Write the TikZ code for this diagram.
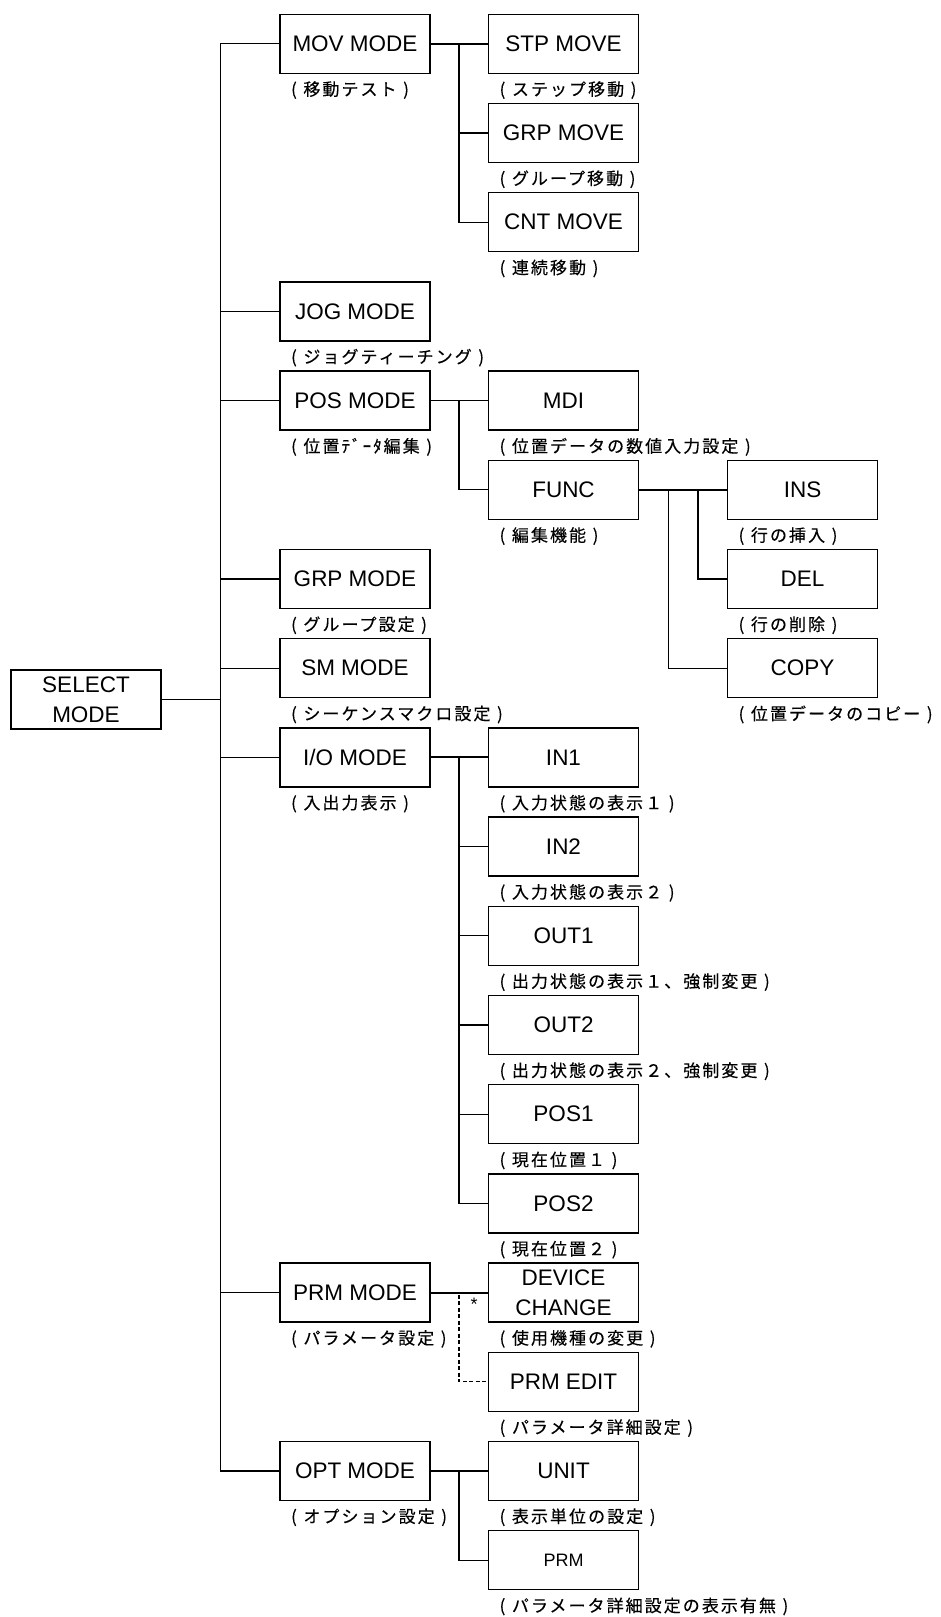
\documentclass[tikz,border=0pt]{standalone}
\usepackage{fontspec}
\setmainfont{Liberation Sans}
\newfontfamily\jpfont[FakeBold=0.3,LetterSpace=12]{Noto Sans CJK JP}
\usetikzlibrary{calc}
\newcommand\LP{\makebox[19pt][c]{(}}
\newcommand\RP{\makebox[19pt][c]{)}}
\tikzset{
  box/.style={draw=black, line width=1.5pt, minimum width=150pt, minimum height=59pt,
    inner sep=0pt, align=center, font=\fontsize{22.5}{30}\selectfont},
  lab/.style={font=\jpfont\fontsize{17}{20}\selectfont, inner sep=0pt, anchor=west},
  conn/.style={line width=1.2pt, line cap=rect},
  mainconn/.style={line width=2pt},
  dconn/.style={line width=1.2pt, dash pattern=on 4pt off 2.5pt}
}
\begin{document}
\begin{tikzpicture}[x=1pt,y=-1pt]
\path[use as bounding box] (0,0) rectangle (940,1617);
% trunk and junction x positions
\coordinate (tk) at (220.5,0);
\coordinate (ja) at (459,0);
\coordinate (jb) at (668.5,0);
\coordinate (jc) at (698,0);

% level 0
\node[box] (sel) at (86,699.3) {SELECT\\MODE};

% level 1
\node[box] (mov) at (355,43.8) {MOV MODE};
\node[box] (jog) at (355,311.4) {JOG MODE};
\node[box] (pos) at (355,400.6) {POS MODE};
\node[box] (grpm) at (355,579) {GRP MODE};
\node[box] (sm) at (355,668.2) {SM MODE};
\node[box] (io) at (355,757.4) {I/O MODE};
\node[box] (prm) at (355,1292.6) {PRM MODE};
\node[box] (opt) at (355,1471) {OPT MODE};

% level 2
\node[box] (stp) at (563.5,43.8) {STP MOVE};
\node[box] (grpmv) at (563.5,133) {GRP MOVE};
\node[box] (cnt) at (563.5,222.2) {CNT MOVE};
\node[box] (mdi) at (563.5,400.6) {MDI};
\node[box] (func) at (563.5,489.8) {FUNC};
\node[box] (in1) at (563.5,757.4) {IN1};
\node[box] (in2) at (563.5,846.6) {IN2};
\node[box] (out1) at (563.5,935.8) {OUT1};
\node[box] (out2) at (563.5,1025) {OUT2};
\node[box] (pos1) at (563.5,1114.2) {POS1};
\node[box] (pos2) at (563.5,1203.4) {POS2};
\node[box] (dev) at (563.5,1292.6) {DEVICE\\CHANGE};
\node[box] (prmed) at (563.5,1381.8) {PRM EDIT};
\node[box] (unit) at (563.5,1471) {UNIT};
\node[box, font=\fontsize{18}{22}\selectfont] (prmo) at (563.5,1560.2) {PRM};

% level 3
\node[box] (ins) at (802.5,489.8) {INS};
\node[box] (del) at (802.5,579) {DEL};
\node[box] (copy) at (802.5,668.2) {COPY};

% labels
\node[lab] (lmov) at ($(mov.south west)+(5,16)$) {\LP 移動テスト\RP};
\node[lab] (ljog) at ($(jog.south west)+(5,16)$) {\LP ジョグティーチング\RP};
\node[lab] (lpos) at ($(pos.south west)+(5,16)$) {\LP 位置ﾃﾞｰﾀ編集\RP};
\node[lab] (lgrpm) at ($(grpm.south west)+(5,16)$) {\LP グループ設定\RP};
\node[lab] (lsm) at ($(sm.south west)+(5,16)$) {\LP シーケンスマクロ設定\RP};
\node[lab] (lio) at ($(io.south west)+(5,16)$) {\LP 入出力表示\RP};
\node[lab] (lprm) at ($(prm.south west)+(5,16)$) {\LP パラメータ設定\RP};
\node[lab] (lopt) at ($(opt.south west)+(5,16)$) {\LP オプション設定\RP};

\node[lab] (lstp) at ($(stp.south west)+(5,16)$) {\LP ステップ移動\RP};
\node[lab] (lgrpmv) at ($(grpmv.south west)+(5,16)$) {\LP グループ移動\RP};
\node[lab] (lcnt) at ($(cnt.south west)+(5,16)$) {\LP 連続移動\RP};
\node[lab] (lmdi) at ($(mdi.south west)+(5,16)$) {\LP 位置データの数値入力設定\RP};
\node[lab] (lfunc) at ($(func.south west)+(5,16)$) {\LP 編集機能\RP};
\node[lab] (lin1) at ($(in1.south west)+(5,16)$) {\LP 入力状態の表示１\RP};
\node[lab] (lin2) at ($(in2.south west)+(5,16)$) {\LP 入力状態の表示２\RP};
\node[lab] (lout1) at ($(out1.south west)+(5,16)$) {\LP 出力状態の表示１、強制変更\RP};
\node[lab] (lout2) at ($(out2.south west)+(5,16)$) {\LP 出力状態の表示２、強制変更\RP};
\node[lab] (lpos1) at ($(pos1.south west)+(5,16)$) {\LP 現在位置１\RP};
\node[lab] (lpos2) at ($(pos2.south west)+(5,16)$) {\LP 現在位置２\RP};
\node[lab] (ldev) at ($(dev.south west)+(5,16)$) {\LP 使用機種の変更\RP};
\node[lab] (lprmed) at ($(prmed.south west)+(5,16)$) {\LP パラメータ詳細設定\RP};
\node[lab] (lunit) at ($(unit.south west)+(5,16)$) {\LP 表示単位の設定\RP};
\node[lab] (lprmo) at ($(prmo.south west)+(5,16)$) {\LP パラメータ詳細設定の表示有無\RP};

\node[lab] (lins) at ($(ins.south west)+(5,16)$) {\LP 行の挿入\RP};
\node[lab] (ldel) at ($(del.south west)+(5,16)$) {\LP 行の削除\RP};
\node[lab] (lcopy) at ($(copy.south west)+(5,16)$) {\LP 位置データのコピー\RP};

% connectors: root to trunk
\draw[conn] (sel.east) -- (sel.east -| tk);
\draw[conn] (mov.west -| tk) -- (opt.west -| tk);
\foreach \n in {mov,jog,pos,grpm,sm,io,prm,opt}
  \draw[conn] (\n.west -| tk) -- (\n.west);

% MOV MODE children
\draw[mainconn] (mov.east) -- (stp.west);
\draw[conn] (mov.east -| ja) |- (grpmv.west);
\draw[conn] (mov.east -| ja) |- (cnt.west);

% POS MODE children
\draw[conn] (pos.east) -- (mdi.west);
\draw[conn] (pos.east -| ja) |- (func.west);

% FUNC children
\draw[mainconn] (func.east) -- (ins.west);
\draw[conn] (func.east -| jb) |- (copy.west);
\draw[conn] (func.east -| jc) |- (del.west);

% I/O MODE children
\draw[mainconn] (io.east) -- (in1.west);
\foreach \n in {in2,out1,out2,pos1,pos2}
  \draw[conn] (io.east -| ja) |- (\n.west);

% PRM MODE children
\draw[mainconn] (prm.east) -- (dev.west);
\draw[dconn] ($(prm.east -| ja)+(0,2)$) |- (prmed.west);
\node[font=\fontsize{18}{18}\selectfont, inner sep=0pt] (ast) at (474,1304) {*};

% OPT MODE children
\draw[mainconn] (opt.east) -- (unit.west);
\draw[conn] (opt.east -| ja) |- (prmo.west);
\end{tikzpicture}
\end{document}
